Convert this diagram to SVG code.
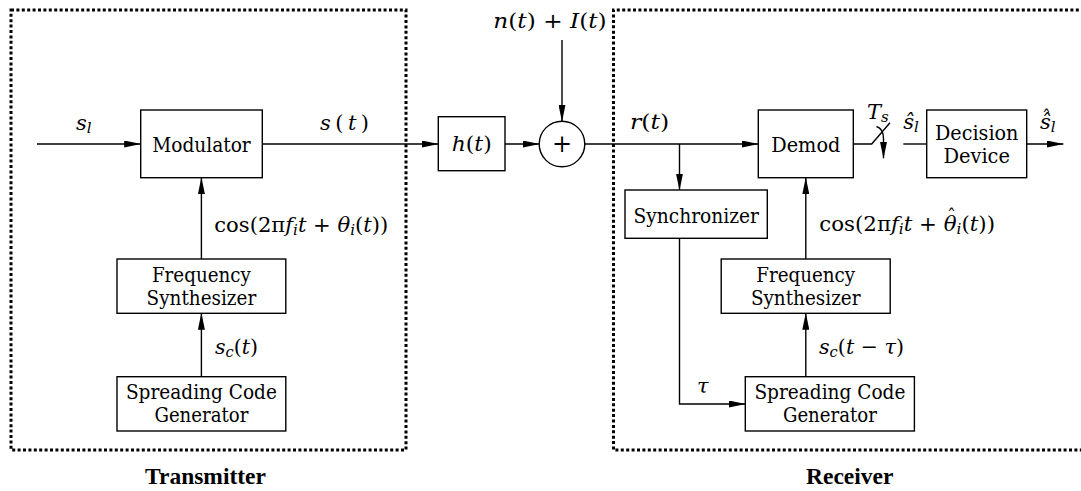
<svg xmlns="http://www.w3.org/2000/svg" width="1081" height="491" viewBox="0 0 1081 491">
<style>
.box{fill:#fff;stroke:#000;stroke-width:1.4}
.ln{fill:none;stroke:#000;stroke-width:1.4}
.arr{marker-end:url(#ah)}
.dot{fill:none;stroke:#000;stroke-width:3;stroke-dasharray:3 2.4}
.t{font-family:'DejaVu Serif',serif;font-size:21px;text-anchor:middle;fill:#000}
.b{font-family:'Liberation Serif',serif;font-size:23.5px;font-weight:bold;text-anchor:middle;fill:#000}
.m{font-family:'DejaVu Serif',serif;font-size:21px;font-style:italic;fill:#000}
.u{font-style:normal}
.sub{font-size:15px}
.hat{font-family:'DejaVu Serif',serif;font-size:18px;fill:#000}
</style>
<defs>
<marker id="ah" markerUnits="userSpaceOnUse" markerWidth="17" markerHeight="7" viewBox="0 0 17 7" refX="16.5" refY="3.5" orient="auto">
<path d="M0,0 L17,3.5 L0,7 z" fill="#000"/>
</marker>
</defs>
<rect width="1081" height="491" fill="#fff"/>

<g id="transmitter-boundary">
<rect class="dot" x="11" y="10" width="395" height="440"/>
<text class="b" x="205.5" y="484">Transmitter</text>
</g>
<g id="receiver-boundary">
<path class="dot" d="M1095,10 H613.5 V450 H1095"/>
<text class="b" x="849.7" y="484">Receiver</text>
</g>

<g id="connectors">
<line class="ln arr" x1="37" y1="144" x2="140.7" y2="144"/>
<line class="ln arr" x1="262.3" y1="144" x2="438.3" y2="144"/>
<line class="ln arr" x1="505" y1="144" x2="539.2" y2="144"/>
<line class="ln arr" x1="562" y1="40" x2="562" y2="121.2"/>
<line class="ln arr" x1="584.8" y1="144" x2="758.3" y2="144"/>
<line class="ln arr" x1="679.5" y1="144" x2="679.5" y2="190"/>
<polyline class="ln arr" points="679.5,238.3 679.5,404 745.3,404"/>
<line class="ln arr" x1="201.4" y1="259" x2="201.4" y2="177.7"/>
<line class="ln arr" x1="201.4" y1="376.7" x2="201.4" y2="313.3"/>
<line class="ln arr" x1="805.8" y1="259" x2="805.8" y2="177.7"/>
<line class="ln arr" x1="805.8" y1="376.7" x2="805.8" y2="313.3"/>
<polyline class="ln" points="853.3,144 871.7,144 890,122.7"/>
<path class="ln arr" d="M876.5,126.5 C881.5,128 883.5,132.5 883.5,139 L883.5,158.3"/>
<line class="ln" x1="903.3" y1="144" x2="926.7" y2="144"/>
<line class="ln arr" x1="1026.7" y1="144" x2="1063.3" y2="144"/>
</g>

<g id="modulator">
<rect class="box" x="140.7" y="110" width="121.6" height="67.7"/>
<text class="t" x="201.5" y="151.5" textLength="98.5" lengthAdjust="spacingAndGlyphs">Modulator</text>
</g>
<g id="tx-freq-synth">
<rect class="box" x="117" y="259" width="168.8" height="54.3"/>
<text class="t" x="201.4" y="282" textLength="99" lengthAdjust="spacingAndGlyphs">Frequency</text>
<text class="t" x="201.4" y="305" textLength="109.6" lengthAdjust="spacingAndGlyphs">Synthesizer</text>
</g>
<g id="tx-spreading-code">
<rect class="box" x="117" y="376.7" width="168.8" height="54.3"/>
<text class="t" x="201.4" y="398.5" textLength="151" lengthAdjust="spacingAndGlyphs">Spreading Code</text>
<text class="t" x="201.4" y="422" textLength="94" lengthAdjust="spacingAndGlyphs">Generator</text>
</g>
<g id="channel">
<rect class="box" x="438.3" y="116.7" width="66.7" height="54"/>
<text class="m" x="451.7" y="151" textLength="40" lengthAdjust="spacingAndGlyphs">h<tspan class="u">(</tspan>t<tspan class="u">)</tspan></text>
</g>
<g id="summer">
<circle class="box" cx="562" cy="144" r="22.8"/>
<text class="t" x="562" y="151.5" style="font-size:24px">+</text>
</g>
<g id="demod">
<rect class="box" x="758.3" y="110" width="95" height="67.7"/>
<text class="t" x="805.8" y="151.5" textLength="69.2" lengthAdjust="spacingAndGlyphs">Demod</text>
</g>
<g id="decision">
<rect class="box" x="926.7" y="110" width="100" height="67.7"/>
<text class="t" x="976.7" y="139.5" textLength="83.5" lengthAdjust="spacingAndGlyphs">Decision</text>
<text class="t" x="976.7" y="163" textLength="66.6" lengthAdjust="spacingAndGlyphs">Device</text>
</g>
<g id="synchronizer">
<rect class="box" x="625" y="190" width="142.3" height="48.3"/>
<text class="t" x="696.2" y="222.5" textLength="125.3" lengthAdjust="spacingAndGlyphs">Synchronizer</text>
</g>
<g id="rx-freq-synth">
<rect class="box" x="721.2" y="259" width="169" height="54.3"/>
<text class="t" x="805.7" y="282" textLength="99" lengthAdjust="spacingAndGlyphs">Frequency</text>
<text class="t" x="805.7" y="305" textLength="109.6" lengthAdjust="spacingAndGlyphs">Synthesizer</text>
</g>
<g id="rx-spreading-code">
<rect class="box" x="745.3" y="376.7" width="169.1" height="54.3"/>
<text class="t" x="829.9" y="398.5" textLength="151" lengthAdjust="spacingAndGlyphs">Spreading Code</text>
<text class="t" x="829.9" y="422" textLength="94" lengthAdjust="spacingAndGlyphs">Generator</text>
</g>

<g id="labels">
<text class="m" x="76" y="130">s<tspan class="sub" dy="3">l</tspan></text>
<text class="m" x="320" y="130" textLength="49" lengthAdjust="spacing">s<tspan class="u">(</tspan>t<tspan class="u">)</tspan></text>
<text class="m" x="214.3" y="232" textLength="174" lengthAdjust="spacingAndGlyphs"><tspan class="u">cos(2π</tspan>f<tspan class="sub" dy="3">i</tspan><tspan dy="-3">t</tspan><tspan class="u"> + </tspan>θ<tspan class="sub" dy="3">i</tspan><tspan class="u" dy="-3">(</tspan>t<tspan class="u">))</tspan></text>
<text class="m" x="215" y="354" textLength="43" lengthAdjust="spacingAndGlyphs">s<tspan class="sub" dy="3">c</tspan><tspan class="u" dy="-3">(</tspan>t<tspan class="u">)</tspan></text>
<text class="m" x="493.3" y="28" textLength="113.4" lengthAdjust="spacingAndGlyphs">n<tspan class="u">(</tspan>t<tspan class="u">) + </tspan>I<tspan class="u">(</tspan>t<tspan class="u">)</tspan></text>
<text class="m" x="630" y="129" textLength="39.3" lengthAdjust="spacingAndGlyphs">r<tspan class="u">(</tspan>t<tspan class="u">)</tspan></text>
<text class="m" x="819.3" y="231" textLength="175.7" lengthAdjust="spacingAndGlyphs"><tspan class="u">cos(2π</tspan>f<tspan class="sub" dy="3">i</tspan><tspan dy="-3">t</tspan><tspan class="u"> + </tspan>θ<tspan class="sub" dy="3">i</tspan><tspan class="u" dy="-3">(</tspan>t<tspan class="u">))</tspan></text>
<text class="hat" x="947" y="223">ˆ</text>
<text class="m" x="867" y="119">T<tspan class="sub" dy="3">s</tspan></text>
<text class="m" x="903.3" y="129">ŝ<tspan class="sub" dy="3">l</tspan></text>
<text class="m" x="1040" y="129">ŝ<tspan class="sub" dy="3">l</tspan></text>
<text class="hat" x="1042" y="124">ˆ</text>
<text class="m" x="697" y="393">τ</text>
<text class="m" x="819" y="354" textLength="85" lengthAdjust="spacingAndGlyphs">s<tspan class="sub" dy="3">c</tspan><tspan class="u" dy="-3">(</tspan>t<tspan class="u"> − </tspan>τ<tspan class="u">)</tspan></text>
</g>
</svg>
